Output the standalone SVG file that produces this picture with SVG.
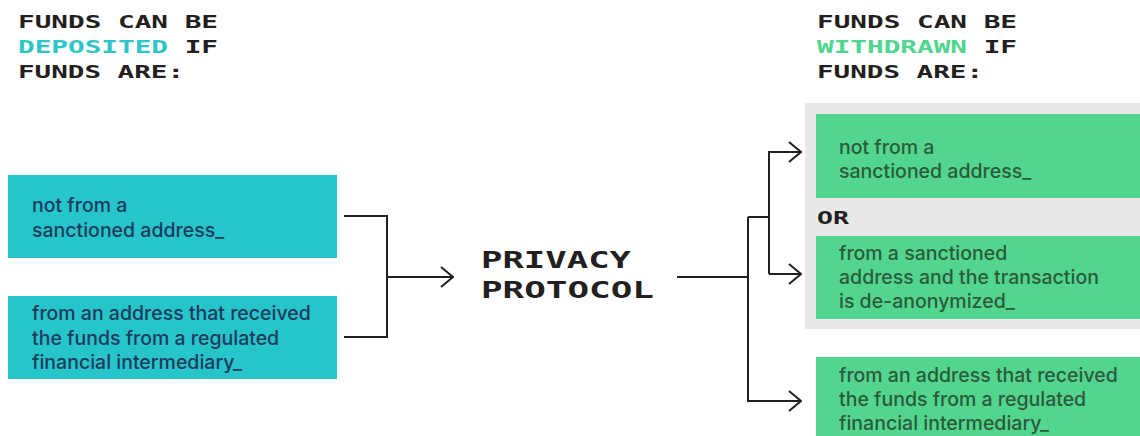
<svg xmlns="http://www.w3.org/2000/svg" width="1140" height="436" viewBox="0 0 1140 436">
<style>
.mono{font-family:"DejaVu Sans Mono","Liberation Mono",monospace;font-size:18px;font-weight:bold;fill:#231f20;}
.big{font-size:23px;}
.body{font-family:Inter,"Open Sans",sans-serif;font-size:19.5px;font-weight:500;}
.lt{fill:#1f3a5c;}
.gt{fill:#2c5a3a;}
.lbox{fill:#25c5ca;}
.gbox{fill:#52d68f;}
.conn{fill:none;stroke:#231f20;stroke-width:2;}
</style>
<defs>
<marker id="arr" viewBox="0 0 14 22" refX="13" refY="11" markerWidth="14" markerHeight="22" markerUnits="userSpaceOnUse" orient="auto">
<path d="M1,1 L13,11 L1,21" fill="none" stroke="#231f20" stroke-width="2"/>
</marker>
</defs>
<rect width="1140" height="436" fill="#ffffff"/>

<g id="header-left">
<text class="mono" x="18" y="28" textLength="200" lengthAdjust="spacingAndGlyphs">FUNDS CAN BE</text>
<text class="mono" x="18" y="53" textLength="200" lengthAdjust="spacingAndGlyphs"><tspan fill="#2ec5c9">DEPOSITED</tspan> IF</text>
<text class="mono" x="18" y="78" textLength="166" lengthAdjust="spacingAndGlyphs">FUNDS ARE:</text>
</g>
<g id="header-right">
<text class="mono" x="817" y="28" textLength="200" lengthAdjust="spacingAndGlyphs">FUNDS CAN BE</text>
<text class="mono" x="817" y="53" textLength="200" lengthAdjust="spacingAndGlyphs"><tspan fill="#4fd68f">WITHDRAWN</tspan> IF</text>
<text class="mono" x="817" y="78" textLength="166" lengthAdjust="spacingAndGlyphs">FUNDS ARE:</text>
</g>

<g id="dep-not-sanctioned">
<rect class="lbox" x="8" y="175" width="329" height="83"/>
<text class="body lt" x="32" y="212">not from a</text>
<text class="body lt" x="32" y="237">sanctioned address_</text>
</g>
<g id="dep-regulated">
<rect class="lbox" x="8" y="296" width="329" height="83"/>
<text class="body lt" x="32" y="320">from an address that received</text>
<text class="body lt" x="32" y="345">the funds from a regulated</text>
<text class="body lt" x="32" y="369">financial intermediary_</text>
</g>

<g id="privacy-protocol">
<text class="mono big" x="481" y="268" textLength="150" lengthAdjust="spacingAndGlyphs">PRIVACY</text>
<text class="mono big" x="481" y="298" textLength="173" lengthAdjust="spacingAndGlyphs">PROTOCOL</text>
</g>

<g id="or-panel">
<rect x="805" y="103" width="335" height="226" fill="#e8e8e8"/>
<text class="mono" x="817" y="224" textLength="32" lengthAdjust="spacingAndGlyphs">OR</text>
</g>
<g id="wd-not-sanctioned">
<rect class="gbox" x="816" y="114" width="324" height="84"/>
<text class="body gt" x="839" y="154">not from a</text>
<text class="body gt" x="839" y="178">sanctioned address_</text>
</g>
<g id="wd-deanonymized">
<rect class="gbox" x="816" y="236" width="324" height="83"/>
<text class="body gt" x="839" y="260">from a sanctioned</text>
<text class="body gt" x="839" y="284">address and the transaction</text>
<text class="body gt" x="839" y="308">is de-anonymized_</text>
</g>
<g id="wd-regulated">
<rect class="gbox" x="816" y="357" width="324" height="79"/>
<text class="body gt" x="839" y="382">from an address that received</text>
<text class="body gt" x="839" y="406">the funds from a regulated</text>
<text class="body gt" x="839" y="430">financial intermediary_</text>
</g>

<g id="connectors">
<path class="conn" d="M344,216 H387 V337 H344"/>
<path class="conn" d="M387,277 H453" marker-end="url(#arr)"/>
<path class="conn" d="M677,277 H748"/>
<path class="conn" d="M748,217 V401 H801" marker-end="url(#arr)"/>
<path class="conn" d="M748,217 H769"/>
<path class="conn" d="M769,274 V152 H801" marker-end="url(#arr)"/>
<path class="conn" d="M769,274 H801" marker-end="url(#arr)"/>
</g>
</svg>
